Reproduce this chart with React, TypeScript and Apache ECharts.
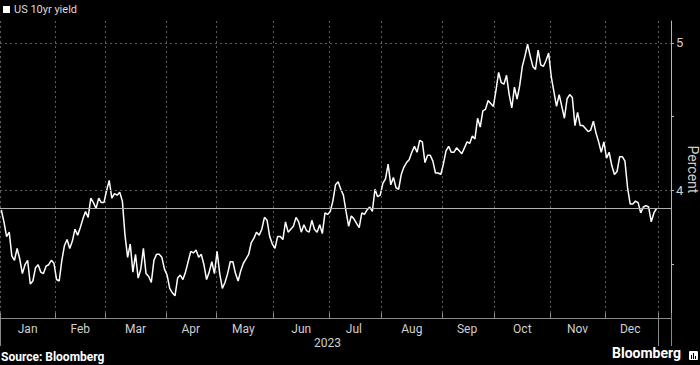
import React, { useEffect, useRef } from "react";
import * as echarts from "echarts";

const MONTH_NAMES = ["Jan", "Feb", "Mar", "Apr", "May", "Jun", "Jul", "Aug", "Sep", "Oct", "Nov", "Dec"];
const SERIES_NAME = "US 10yr yield";
const Y_TICKS = [3.5, 4, 4.5, 5];
const Y_LABELS = [4, 5];
const GRID_VALUES = [4, 5];

// trading days (day-of-month) per month
const daysDec2022 = [30];
const daysJan = [3, 4, 5, 6, 9, 10, 11, 12, 13, 17, 18, 19, 20, 23, 24, 25, 26, 27, 30, 31];
const daysFeb = [1, 2, 3, 6, 7, 8, 9, 10, 13, 14, 15, 16, 17, 21, 22, 23, 24, 27, 28];
const daysMar = [1, 2, 3, 6, 7, 8, 9, 10, 13, 14, 15, 16, 17, 20, 21, 22, 23, 24, 27, 28, 29, 30, 31];
const daysApr = [3, 4, 5, 6, 10, 11, 12, 13, 14, 17, 18, 19, 20, 21, 24, 25, 26, 27, 28];
const daysMay = [1, 2, 3, 4, 5, 8, 9, 10, 11, 12, 15, 16, 17, 18, 19, 22, 23, 24, 25, 26, 30, 31];
const daysJun = [1, 2, 5, 6, 7, 8, 9, 12, 13, 14, 15, 16, 20, 21, 22, 23, 26, 27, 28, 29, 30];
const daysJul = [3, 5, 6, 7, 10, 11, 12, 13, 14, 17, 18, 19, 20, 21, 24, 25, 26, 27, 28, 31];
const daysAug = [1, 2, 3, 4, 7, 8, 9, 10, 11, 14, 15, 16, 17, 18, 21, 22, 23, 24, 25, 28, 29, 30, 31];
const daysSep = [1, 5, 6, 7, 8, 11, 12, 13, 14, 15, 18, 19, 20, 21, 22, 25, 26, 27, 28, 29];
const daysOct = [2, 3, 4, 5, 6, 10, 11, 12, 13, 16, 17, 18, 19, 20, 23, 24, 25, 26, 27, 30, 31];
const daysNov = [1, 2, 3, 6, 7, 8, 9, 10, 13, 14, 15, 16, 17, 20, 21, 22, 24, 27, 28, 29, 30];
const daysDec = [1, 4, 5, 6, 7, 8, 11, 12, 13, 14, 15, 18, 19, 20, 21, 22, 26, 27, 28, 29];
const daysJan2024 = [2, 3, 4, 5, 8];

// yields (percent)
const yDec2022 = [3.87];
const yJan = [3.79, 3.69, 3.72, 3.56, 3.53, 3.61, 3.54, 3.44, 3.5, 3.53, 3.37, 3.39, 3.48, 3.5, 3.45, 3.44, 3.49, 3.5, 3.53, 3.51];
const yFeb = [3.4, 3.39, 3.53, 3.63, 3.67, 3.61, 3.66, 3.74, 3.7, 3.75, 3.81, 3.86, 3.82, 3.95, 3.92, 3.88, 3.95, 3.92, 3.92];
const yMar = [4.0, 4.07, 3.95, 3.98, 3.97, 3.99, 3.93, 3.7, 3.55, 3.64, 3.45, 3.57, 3.41, 3.47, 3.61, 3.44, 3.42, 3.38, 3.53, 3.57, 3.57, 3.55, 3.47];
const yApr = [3.43, 3.34, 3.31, 3.29, 3.41, 3.43, 3.4, 3.45, 3.52, 3.59, 3.58, 3.6, 3.55, 3.57, 3.5, 3.4, 3.45, 3.52, 3.44];
const yMay = [3.59, 3.44, 3.34, 3.38, 3.44, 3.52, 3.52, 3.44, 3.39, 3.46, 3.51, 3.54, 3.57, 3.65, 3.68, 3.72, 3.7, 3.74, 3.82, 3.8, 3.69, 3.64];
const yJun = [3.61, 3.69, 3.69, 3.67, 3.79, 3.72, 3.74, 3.76, 3.82, 3.79, 3.72, 3.77, 3.73, 3.72, 3.8, 3.74, 3.72, 3.77, 3.71, 3.85, 3.84];
const yJul = [3.86, 3.93, 4.04, 4.06, 4.01, 3.97, 3.86, 3.76, 3.83, 3.81, 3.78, 3.75, 3.85, 3.84, 3.87, 3.89, 3.86, 4.01, 3.96, 3.97];
const yAug = [4.05, 4.08, 4.18, 4.04, 4.09, 4.02, 4.01, 4.11, 4.16, 4.19, 4.21, 4.26, 4.3, 4.26, 4.34, 4.33, 4.19, 4.24, 4.24, 4.2, 4.12, 4.12, 4.11];
const ySep = [4.18, 4.27, 4.3, 4.26, 4.26, 4.29, 4.27, 4.25, 4.29, 4.33, 4.32, 4.37, 4.35, 4.49, 4.43, 4.54, 4.55, 4.61, 4.59, 4.57];
const yOct = [4.68, 4.8, 4.73, 4.72, 4.78, 4.65, 4.56, 4.7, 4.62, 4.71, 4.84, 4.91, 4.99, 4.91, 4.84, 4.82, 4.95, 4.85, 4.84, 4.88, 4.93];
const yNov = [4.77, 4.67, 4.57, 4.65, 4.57, 4.49, 4.62, 4.65, 4.63, 4.44, 4.53, 4.44, 4.44, 4.42, 4.4, 4.41, 4.47, 4.39, 4.33, 4.26, 4.33];
const yDec = [4.22, 4.26, 4.17, 4.11, 4.13, 4.23, 4.23, 4.2, 4.02, 3.91, 3.91, 3.93, 3.92, 3.85, 3.89, 3.9, 3.89, 3.79, 3.85, 3.88];

const blocks: [number, number, number[], number[]][] = [
  [2022, 12, daysDec2022, yDec2022],
  [2023, 1, daysJan, yJan],
  [2023, 2, daysFeb, yFeb],
  [2023, 3, daysMar, yMar],
  [2023, 4, daysApr, yApr],
  [2023, 5, daysMay, yMay],
  [2023, 6, daysJun, yJun],
  [2023, 7, daysJul, yJul],
  [2023, 8, daysAug, yAug],
  [2023, 9, daysSep, ySep],
  [2023, 10, daysOct, yOct],
  [2023, 11, daysNov, yNov],
  [2023, 12, daysDec, yDec],
  [2024, 1, daysJan2024, []],
];

const pad = (n: number) => (n < 10 ? "0" + n : "" + n);

function buildData() {
  const dates: string[] = [];
  const values: (number | null)[] = [];
  blocks.forEach(([yy, mm, days, vals]) => {
    days.forEach((d, i) => {
      dates.push(`${yy}-${pad(mm)}-${pad(d)}`);
      values.push(i < vals.length ? vals[i] : null);
    });
  });
  return { dates, values };
}

export default function App() {
  const ref = useRef<HTMLDivElement>(null);

  useEffect(() => {
    if (!ref.current) return;
    const chart = echarts.init(ref.current, undefined, { renderer: "svg" });
    const { dates, values } = buildData();
    const month = (i: number) => dates[i].slice(0, 7);
    const year = (i: number) => dates[i].slice(0, 4);

    // month boundaries (Dec 30 2022 grouped with January)
    const monthTick = new Set<number>([0]);
    for (let i = 2; i < dates.length; i++) if (month(i) !== month(i - 1)) monthTick.add(i);
    const yearTick = new Set<number>([0]);
    for (let i = 2; i < dates.length; i++) if (year(i) !== year(i - 1)) yearTick.add(i);

    const bounds = Array.from(monthTick).sort((a, b) => a - b);
    const monthLabelIdx = new Set<number>();
    for (let k = 0; k < bounds.length - 1; k++) {
      monthLabelIdx.add(Math.floor((bounds[k] + bounds[k + 1]) / 2 - 0.5));
    }
    const ybounds = Array.from(yearTick).sort((a, b) => a - b);
    const yearLabelIdx = new Set<number>();
    for (let k = 0; k < ybounds.length - 1; k++) {
      yearLabelIdx.add(Math.floor((ybounds[k] + ybounds[k + 1]) / 2 - 0.5));
    }

    const lastValue = (() => {
      for (let i = values.length - 1; i >= 0; i--) if (values[i] != null) return values[i] as number;
      return 0;
    })();

    const font = "Roboto, 'Noto Sans', sans-serif";
    const gridLine = { color: "#5c5c5c", type: [2, 3] as any, width: 1 };

    chart.setOption({
      animation: false,
      backgroundColor: "#000",
      textStyle: { fontFamily: font },
      grid: { left: 0, right: 29, top: 21, bottom: 47, containLabel: false, outerBoundsMode: "none" },
      legend: {
        show: true,
        data: [SERIES_NAME],
        left: 3,
        top: 4,
        padding: 0,
        icon: "rect",
        itemWidth: 7,
        itemHeight: 7,
        itemGap: 4,
        selectedMode: false,
        textStyle: { color: "#dcdcdc", fontSize: 11, fontFamily: font, padding: [0, 0, 0, -1] },
      },
      xAxis: [
        {
          type: "category",
          data: dates,
          boundaryGap: true,
          axisLine: { show: true, lineStyle: { color: "#8a8a8a", width: 1 } },
          axisTick: {
            show: true,
            inside: true,
            length: 5,
            interval: (i: number) => monthTick.has(i),
            lineStyle: { color: "#8a8a8a" },
          },
          splitLine: {
            show: true,
            interval: (i: number) => monthTick.has(i),
            lineStyle: gridLine,
          },
          axisLabel: {
            show: true,
            interval: (i: number) => monthLabelIdx.has(i),
            formatter: (v: string) => MONTH_NAMES[parseInt(v.slice(5, 7), 10) - 1],
            color: "#cfcfcf",
            fontSize: 12,
            margin: 5,
            fontFamily: font,
          },
        },
        {
          type: "category",
          data: dates,
          position: "bottom",
          boundaryGap: true,
          axisLine: { show: false },
          axisTick: {
            show: true,
            length: 28,
            interval: (i: number) => yearTick.has(i),
            lineStyle: { color: "#8a8a8a" },
          },
          splitLine: { show: false },
          axisLabel: {
            show: true,
            interval: (i: number) => yearLabelIdx.has(i),
            formatter: (v: string) => v.slice(0, 4),
            color: "#cfcfcf",
            fontSize: 12,
            margin: 19,
            fontFamily: font,
          },
        },
      ],
      yAxis: {
        type: "value",
        position: "right",
        min: 3.14,
        max: 5.147,
        name: "Percent",
        nameLocation: "middle",
        nameRotate: -90,
        nameGap: 15,
        nameMoveOverlap: false,
        nameTextStyle: { color: "#cfcfcf", fontSize: 14, fontFamily: font },
        axisLine: { show: true, lineStyle: { color: "#b5b5b5", width: 1 } },
        axisTick: { show: true, length: 3, customValues: Y_TICKS, lineStyle: { color: "#b5b5b5" } },
        axisLabel: {
          show: true,
          customValues: Y_LABELS,
          color: "#cfcfcf",
          fontSize: 13,
          margin: 5,
          fontFamily: font,
        },
        splitLine: { show: false },
      },
      series: [
        {
          name: SERIES_NAME,
          type: "line",
          data: values,
          xAxisIndex: 0,
          showSymbol: false,
          symbol: "none",
          silent: true,
          itemStyle: { color: "#ffffff" },
          lineStyle: { color: "#ffffff", width: 1.5 },
          emphasis: { disabled: true },
          markLine: {
            silent: true,
            symbol: ["none", "none"],
            label: { show: false },
            emphasis: { disabled: true },
            data: [
              ...GRID_VALUES.map((v) => ({ yAxis: v, lineStyle: gridLine })),
              { yAxis: lastValue, lineStyle: { color: "#b0b0b0", type: "solid", width: 1 } },
            ],
          },
        },
      ],
      graphic: [
        {
          type: "text",
          left: 1,
          top: 351,
          style: { text: "Source: Bloomberg", fill: "#ffffff", font: `bold 12px ${font}` },
        },
        {
          type: "text",
          left: 612,
          top: 346,
          style: { text: "Bloomberg", fill: "#ffffff", font: `bold 14px ${font}` },
        },
        {
          type: "group",
          left: 689,
          top: 351,
          children: [
            { type: "rect", shape: { x: 0, y: 0, width: 9, height: 9, r: 1 }, style: { fill: "#ffffff" } },
            { type: "rect", shape: { x: 2, y: 4, width: 1, height: 4 }, style: { fill: "#000" } },
            { type: "rect", shape: { x: 4, y: 2, width: 1, height: 6 }, style: { fill: "#000" } },
            { type: "rect", shape: { x: 6, y: 5, width: 1, height: 3 }, style: { fill: "#000" } },
          ],
        },
      ],
    });

    return () => chart.dispose();
  }, []);

  return (
    <div
      ref={ref}
      style={{ position: "fixed", left: 0, top: 0, width: 700, height: 365, background: "#000" }}
    />
  );
}
